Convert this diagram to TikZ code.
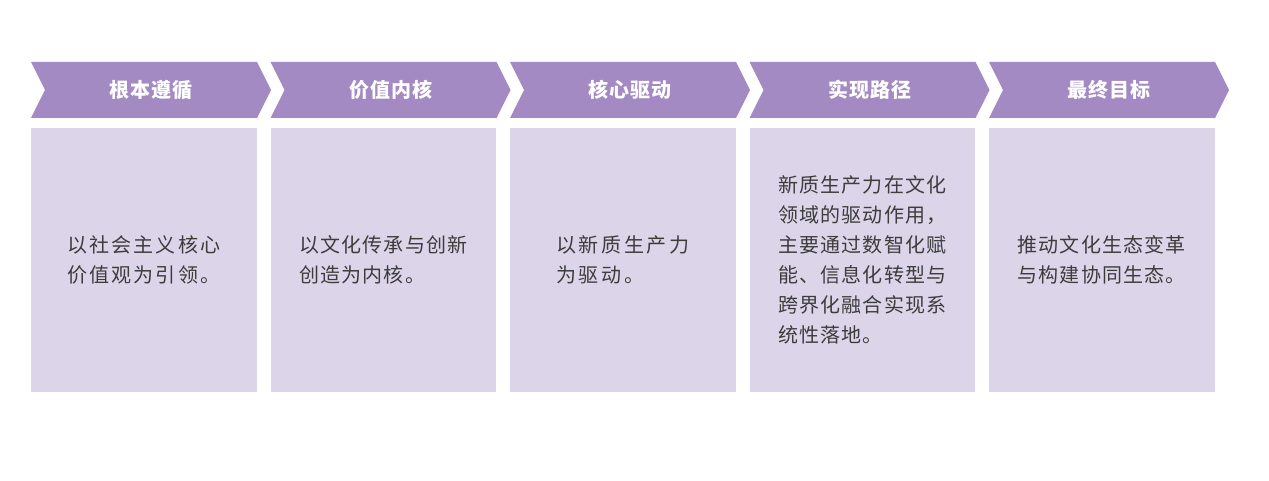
\documentclass[tikz,border=0pt]{standalone}
\usepackage{fontspec}
\newfontfamily\cjk{Noto Sans CJK SC}
\definecolor{headpurple}{HTML}{A48AC3}
\definecolor{boxlilac}{HTML}{DCD5EA}
\definecolor{bodygray}{HTML}{3C3C3C}

\begin{document}
\begin{tikzpicture}[x=1pt,y=-1pt,
  headtext/.style={text=white, font=\cjk\bfseries\fontsize{20}{24}\selectfont\addfontfeature{LetterSpace=5}, inner sep=0pt},
  bodytext/.style={text=bodygray, align=left, inner sep=0pt, font=\cjk\fontsize{20}{30}\selectfont\addfontfeature{LetterSpace=#1}},
  bodytext/.default=6]
\useasboundingbox (0,0) rectangle (1269,481);
\fill[headpurple] (31,62) -- (257,62) -- (271,90) -- (257,118) -- (31,118) -- (45,90) -- cycle;
\node[headtext] (head1) at (151,90) {根本遵循};
\fill[boxlilac] (31,128) rectangle (256.5,392);
\node[bodytext=11] (body1) at (143.75,260) {以社会主义核心\\价值观为引领。};
\fill[headpurple] (270.5,62) -- (496.5,62) -- (510.5,90) -- (496.5,118) -- (270.5,118) -- (284.5,90) -- cycle;
\node[headtext] (head2) at (390.5,90) {价值内核};
\fill[boxlilac] (270.5,128) rectangle (496,392);
\node[bodytext] (body2) at (383.25,260) {以文化传承与创新\\创造为内核。};
\fill[headpurple] (510,62) -- (736,62) -- (750,90) -- (736,118) -- (510,118) -- (524,90) -- cycle;
\node[headtext] (head3) at (630,90) {核心驱动};
\fill[boxlilac] (510,128) rectangle (735.5,392);
\node[bodytext=13] (body3) at (622.75,260) {以新质生产力\\为驱动。};
\fill[headpurple] (749.5,62) -- (975.5,62) -- (989.5,90) -- (975.5,118) -- (749.5,118) -- (763.5,90) -- cycle;
\node[headtext] (head4) at (869.5,90) {实现路径};
\fill[boxlilac] (749.5,128) rectangle (975,392);
\node[bodytext] (body4) at (862.25,260) {新质生产力在文化\\领域的驱动作用，\\主要通过数智化赋\\能、信息化转型与\\跨界化融合实现系\\统性落地。};
\fill[headpurple] (989,62) -- (1215,62) -- (1229,90) -- (1215,118) -- (989,118) -- (1003,90) -- cycle;
\node[headtext] (head5) at (1109,90) {最终目标};
\fill[boxlilac] (989,128) rectangle (1214.5,392);
\node[bodytext] (body5) at (1101.75,260) {推动文化生态变革\\与构建协同生态。};
\end{tikzpicture}
\end{document}
